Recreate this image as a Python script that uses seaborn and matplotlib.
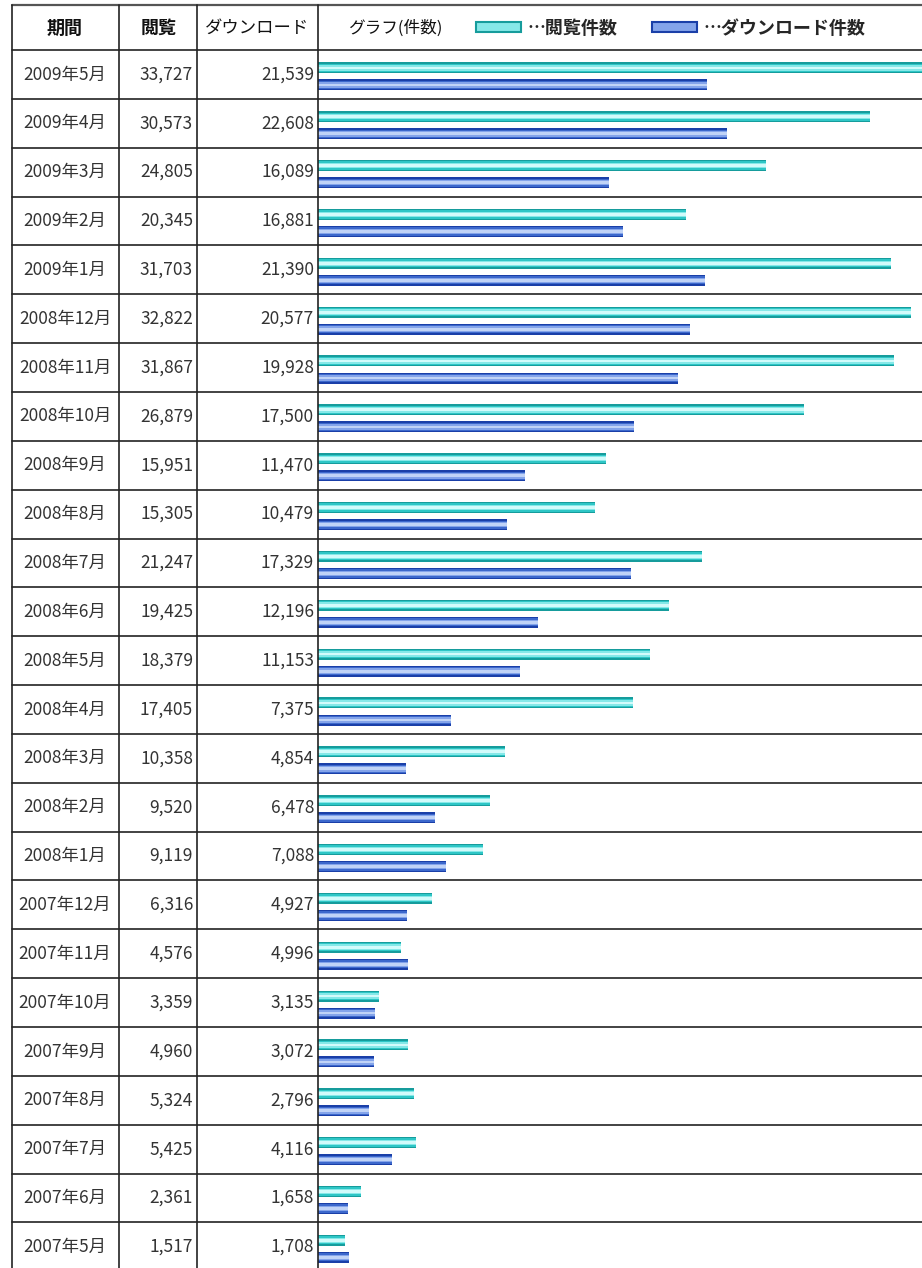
import numpy as np
import pandas as pd
import matplotlib
matplotlib.use('Agg')
import matplotlib.pyplot as plt
from matplotlib.patches import Patch
import seaborn as sns

sns.set_style('white')
plt.rcParams['font.family'] = ['Noto Sans CJK JP', 'DejaVu Sans']

# data, newest month first (as in the table)
periods = ['2009年5月', '2009年4月', '2009年3月', '2009年2月', '2009年1月',
           '2008年12月', '2008年11月', '2008年10月', '2008年9月', '2008年8月',
           '2008年7月', '2008年6月', '2008年5月', '2008年4月', '2008年3月',
           '2008年2月', '2008年1月', '2007年12月', '2007年11月', '2007年10月',
           '2007年9月', '2007年8月', '2007年7月', '2007年6月', '2007年5月']
views = [33727, 30573, 24805, 20345, 31703, 32822, 31867, 26879, 15951, 15305,
         21247, 19425, 18379, 17405, 10358, 9520, 9119, 6316, 4576, 3359,
         4960, 5324, 5425, 2361, 1517]
downloads = [21539, 22608, 16089, 16881, 21390, 20577, 19928, 17500, 11470, 10479,
             17329, 12196, 11153, 7375, 4854, 6478, 7088, 4927, 4996, 3135,
             3072, 2796, 4116, 1658, 1708]

headers = ['期間', '閲覧', 'ダウンロード', 'グラフ(件数)']
series = ['…閲覧件数', '…ダウンロード件数']

df = pd.DataFrame({
    '期間': periods * 2,
    '件数': views + downloads,
    '系列': [series[0]] * len(periods) + [series[1]] * len(periods),
})

W, H = 922, 1268
fig = plt.figure(figsize=(W / 100, H / 100), dpi=100)

# table geometry in pixels
top_border = 5
head_bot = 50
row_h = 48.85
col_x = [12, 119, 197, 318]
n = len(periods)

# bar area
ax = fig.add_axes([col_x[3] / W, 0, (W - col_x[3]) / W, (H - head_bot) / H])
ax.set_facecolor('none')

# striped bars: several layers, each thinner and lighter
cyan_layers = ['#169c9c', '#2ec6c6', '#86e8e8', '#d2fbfb']
blue_layers = ['#1a3fa8', '#3c68cc', '#84a4ea', '#c0d3f7']
fracs = [1.0, 0.75, 0.5, 0.25]
slot = 0.35
full_h = 0.225
for c1, c2, f in zip(cyan_layers, blue_layers, fracs):
    sns.barplot(data=df, y='期間', x='件数', hue='系列', order=periods,
                hue_order=series, orient='h', width=2 * slot,
                gap=1 - full_h * f / slot, palette=[c1, c2], saturation=1,
                errorbar=None, legend=False, ax=ax, linewidth=0)
for p in ax.patches:
    p.set_antialiased(False)

ax.set_xlim(0, (W - col_x[3]) / 0.01807)
y_top = -0.5 - 2 / row_h
ax.set_ylim(y_top + (H - head_bot) / row_h, y_top)
ax.axis('off')

# table overlay in pixel coordinates
axt = fig.add_axes([0, 0, 1, 1], zorder=5)
axt.set_xlim(0, W)
axt.set_ylim(H, 0)
axt.axis('off')
axt.patch.set_alpha(0)

lc = '#222222'
axt.plot([col_x[0], W], [top_border, top_border], color='#555555', lw=1.6)
for k in range(n + 1):
    y = head_bot + row_h * k
    axt.plot([col_x[0], W], [y, y], color=lc, lw=1.2)
for x in col_x:
    axt.plot([x, x], [top_border, H], color=lc, lw=1.2)

# header texts
hy = 28
axt.text(65, hy, headers[0], ha='center', va='center', fontsize=13, fontweight='bold', color='#111111')
axt.text(159, hy, headers[1], ha='center', va='center', fontsize=13, fontweight='bold', color='#111111')
axt.text(257, hy, headers[2], ha='center', va='center', fontsize=12.5, color='#111111')
axt.text(348, hy, headers[3], ha='left', va='center', fontsize=12, color='#111111')

# cell texts
for i in range(n):
    yc = head_bot + row_h * (i + 0.5)
    axt.text(65, yc, periods[i], ha='center', va='center', fontsize=12.5, color='#333333')
    axt.text(193, yc, f'{views[i]:,}', ha='right', va='center', fontsize=12.5, color='#333333')
    axt.text(314, yc, f'{downloads[i]:,}', ha='right', va='center', fontsize=12.5, color='#333333')

# legend in the header
handles = [Patch(facecolor='#86e8e8', edgecolor='#169c9c', lw=1.5),
           Patch(facecolor='#84a4ea', edgecolor='#1a3fa8', lw=1.5)]
fig.legend(handles, series, loc='center left', bbox_to_anchor=(476 / W, 1 - hy / H),
           ncol=2, frameon=False, borderpad=0, borderaxespad=0,
           handlelength=2.5, handleheight=0.5, handletextpad=0.35,
           columnspacing=1.9, prop={'size': 13, 'weight': 'bold'})

fig.savefig('out.png', dpi=100)
